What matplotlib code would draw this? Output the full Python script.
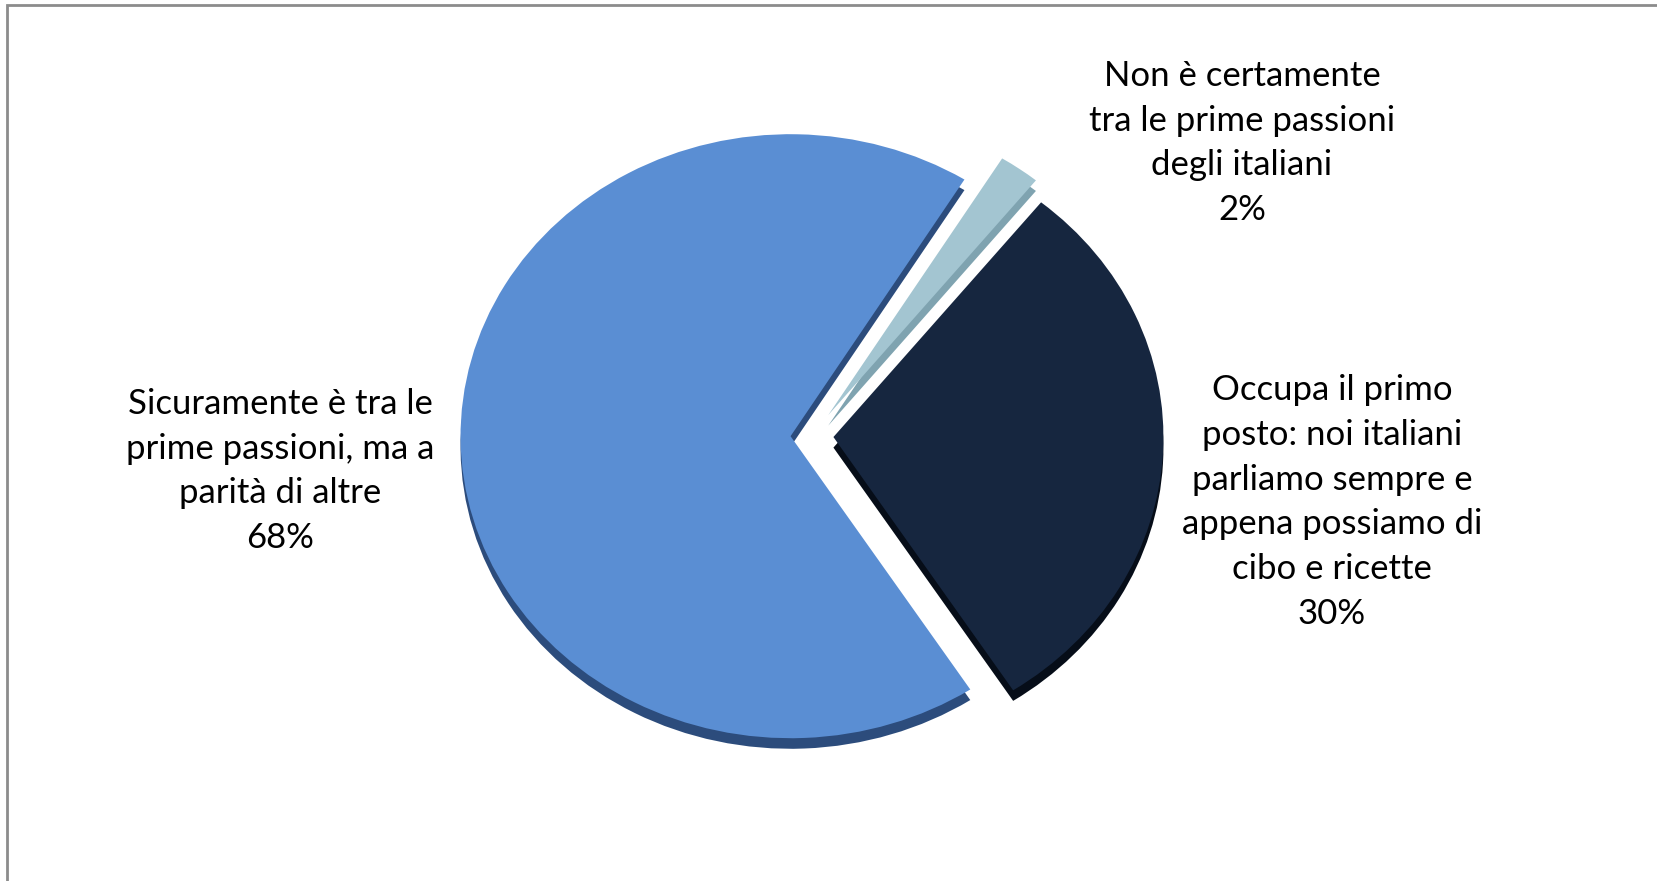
import matplotlib.pyplot as plt
import matplotlib.patches as mpatches

plt.rcParams['font.family'] = ['Lato', 'DejaVu Sans']

labels = ['Occupa il primo\nposto: noi italiani\nparliamo sempre e\nappena possiamo di\ncibo e ricette',
          'Non è certamente\ntra le prime passioni\ndegli italiani',
          'Sicuramente è tra le\nprime passioni, ma a\nparità di altre']
values = [30, 2, 68]
colors = ['#16263F', '#A3C5D1', '#5A8ED3']
depth_colors = ['#060D18', '#7FA3B0', '#2C4C7C']
explode = [0.065, 0.085, 0.065]

W, H = 1657, 881
fig = plt.figure(figsize=(W / 100, H / 100), dpi=100)

# axes placed in pixel units so the pie is a slightly flattened ellipse
cx, cy = 812, 436   # pie centre (pixels from top-left)
rx, ry = 330, 302
ax = fig.add_axes([(cx - rx * 1.5) / W, 1 - (cy + ry * 1.5) / H, rx * 3 / W, ry * 3 / H])

# depth layer (fake 3D)
ax.pie(values, colors=depth_colors, explode=explode, startangle=-57,
       counterclock=True, center=(0, -0.035), radius=1.0, frame=True)
wedges, _ = ax.pie(values, colors=colors, explode=explode, startangle=-57,
                   counterclock=True, center=(0, 0), radius=1.0, frame=True)
ax.set_xlim(-1.5, 1.5)
ax.set_ylim(-1.5, 1.5)
ax.set_aspect('auto')
ax.axis('off')

# labels, block centres in figure pixels
label_pos = [(1332, 502), (1242, 143), (280, 471)]
for lab, v, (x, y) in zip(labels, values, label_pos):
    fig.text(x / W, 1 - y / H, f'{lab}\n{v}%', ha='center', va='center', fontsize=25,
             linespacing=1.49, color='black')

# outer frame (only top and left visible in the original)
frame = mpatches.Rectangle((7 / W, -0.01), 1.02, 1 - 5 / H + 0.01, transform=fig.transFigure,
                           fill=False, edgecolor='#8C8C8C', linewidth=2)
fig.patches.append(frame)

fig.savefig('out.png', dpi=100)
